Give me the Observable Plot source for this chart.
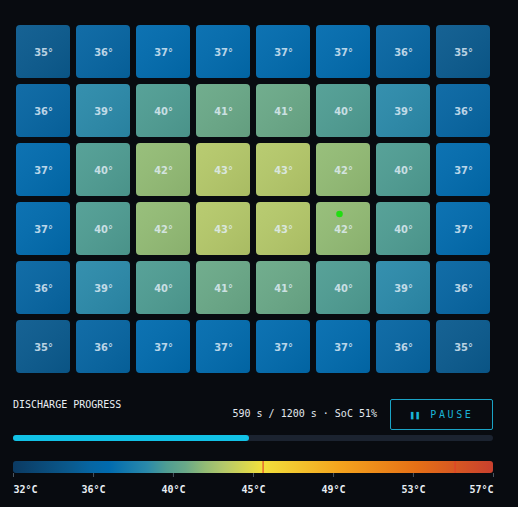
<!DOCTYPE html>
<html><head><meta charset="utf-8">
<script src="https://cdn.jsdelivr.net/npm/d3@7"></script>
<script src="https://cdn.jsdelivr.net/npm/@observablehq/plot@0.6"></script>
<style>
html,body{margin:0;padding:0;background:#080b10;}
#root{position:relative;width:518px;height:507px;background:#080b10;overflow:hidden;}
.abs{position:absolute;}
.mono{font-family:"DejaVu Sans Mono","Liberation Mono",monospace;font-size:10px;line-height:12px;white-space:nowrap;}
#btn{box-sizing:border-box;border:1px solid #1aa4c6;border-radius:2px;color:#1ab4d8;display:flex;align-items:center;justify-content:center;letter-spacing:2.6px;}
.cl{font-stretch:condensed;}
</style></head><body><div id="root"></div>
<script>
// ---- data ----
const cols = [0, 1, 2, 3, 4, 5, 6, 7];
const rows = [0, 1, 2, 3, 4, 5];
const row0 = [35, 36, 37, 37, 37, 37, 36, 35];
const row1 = [36, 39, 40, 41, 41, 40, 39, 36];
const row2 = [37, 40, 42, 43, 43, 42, 40, 37];
const row3 = [37, 40, 42, 43, 43, 42, 40, 37];
const row4 = [36, 39, 40, 41, 41, 40, 39, 36];
const row5 = [35, 36, 37, 37, 37, 37, 36, 35];
const temps = [row0, row1, row2, row3, row4, row5];
const hotspot = [{row: 3, col: 5}];
const elapsed = 590, duration = 1200, soc = 51;
const scaleDomain = [32, 57];
const scaleTicks = [32, 36.17, 40.33, 44.5, 48.67, 52.83, 57];
const scaleTickLabels = ["32°C", "36°C", "40°C", "45°C", "49°C", "53°C", "57°C"];
const thresholds = [45, 55];
const colorStops = [32, 35, 36, 37, 39, 40, 41, 42, 43, 45, 49, 53, 57];
const colorRange = ["#0b3a62", "#0a5a8e", "#0665a2", "#016bae", "#2b8aaa", "#4f9d93", "#6aa988", "#93bc75", "#b5c96a", "#f2e03c", "#f4a41e", "#e67016", "#c8402e"];

const cells = [];
rows.forEach(r => cols.forEach(c => cells.push({row: r, col: c, t: temps[r][c]})));

const root = document.getElementById("root");
const colorOpts = {type: "linear", domain: colorStops, range: colorRange, interpolate: "rgb"};

// ---- grid ----
const grid = Plot.plot({
  width: 518, height: 390, margin: 0,
  style: {background: "transparent", overflow: "visible"},
  x: {type: "band", domain: cols, range: [16, 490], paddingInner: 0.1, paddingOuter: 0, axis: null},
  y: {type: "band", domain: rows, range: [22, 376], paddingInner: 0.1, paddingOuter: 0, axis: null},
  color: colorOpts,
  marks: [
    Plot.cell(cells, {x: "col", y: "row", fill: "t", inset: 0, rx: 4}),
    Plot.cell(cells, {x: "col", y: "row", fill: "url(#sheen)", inset: 0, rx: 4}),
    Plot.text(cells, {x: "col", y: "row", text: d => d.t + "°", fill: "#e2eef8", fillOpacity: 0.82,
      fontSize: 11, fontWeight: "bold", fontFamily: "'DejaVu Sans',sans-serif", className: "cl"}),
    Plot.dot(hotspot, {x: "col", y: "row", dx: -4, dy: -15, r: 3.3, fill: "#22dd11", stroke: "none"})
  ]
});
d3.select(grid).selectAll("text").style("font-stretch", "condensed").attr("font-stretch", "condensed");
const defs = d3.select(grid).insert("defs", ":first-child");
const g = defs.append("linearGradient").attr("id", "sheen").attr("x1", 0).attr("y1", 0).attr("x2", 1).attr("y2", 1);
g.append("stop").attr("offset", 0).attr("stop-color", "#ffffff").attr("stop-opacity", 0.05);
g.append("stop").attr("offset", 1).attr("stop-color", "#000000").attr("stop-opacity", 0.07);
grid.style.position = "absolute"; grid.style.left = "0px"; grid.style.top = "0px";
root.appendChild(grid);

// ---- progress texts ----
const lab = document.createElement("div");
lab.className = "abs mono"; lab.style.left = "13px"; lab.style.top = "399px"; lab.style.color = "#e8eef4";
lab.textContent = "DISCHARGE PROGRESS";
root.appendChild(lab);

const st = document.createElement("div");
st.className = "abs mono"; st.style.right = "141px"; st.style.top = "408px"; st.style.color = "#e2e8ee";
st.textContent = `${elapsed} s / ${duration} s · SoC ${soc}%`;
root.appendChild(st);

const btn = document.createElement("div");
btn.id = "btn"; btn.className = "abs mono";
btn.style.left = "390px"; btn.style.top = "399px"; btn.style.width = "103px"; btn.style.height = "31px";
btn.innerHTML = '<span style="font-weight:bold;letter-spacing:0px;margin-right:10px;font-size:9px">❚❚</span>PAUSE';
root.appendChild(btn);

// ---- progress bar ----
const prog = Plot.plot({
  width: 518, height: 6, margin: 0,
  style: {background: "transparent"},
  x: {domain: [0, duration], range: [13, 493], axis: null},
  marks: [
    Plot.rect([duration], {x1: 0, x2: d => d, fill: "#1b2330", rx: 3}),
    Plot.rect([elapsed], {x1: 0, x2: d => d, fill: "#12c2e6", rx: 3})
  ]
});
prog.style.position = "absolute"; prog.style.left = "0px"; prog.style.top = "435px";
root.appendChild(prog);

// ---- colour scale bar ----
const cb = Plot.plot({
  width: 518, height: 52, margin: 0,
  style: {background: "transparent", overflow: "visible"},
  x: {domain: scaleDomain, range: [13, 493], axis: null},
  marks: [
    Plot.rect([scaleDomain], {x1: d => d[0], x2: d => d[1], insetTop: 6, insetBottom: 34, fill: "url(#cbgrad)", rx: 3}),
    Plot.ruleX(thresholds, {x: d => d, insetTop: 6, insetBottom: 34, stroke: "#e0402c", strokeWidth: 1.3, strokeOpacity: 0.85}),
    Plot.ruleX(scaleTicks, {x: d => d, insetTop: 18, insetBottom: 30, stroke: "#4a5662", strokeWidth: 1}),
    Plot.text(scaleTicks.slice(0, 1), {x: d => d, text: (d, i) => scaleTickLabels[i], frameAnchor: "top", dy: 30, textAnchor: "start",
      fill: "#e8eef4", fontSize: 10, fontWeight: "bold", fontFamily: "'DejaVu Sans Mono',monospace"}),
    Plot.text(scaleTicks.slice(1, 6), {x: d => d, text: (d, i) => scaleTickLabels[i + 1], frameAnchor: "top", dy: 30, textAnchor: "middle",
      fill: "#e8eef4", fontSize: 10, fontWeight: "bold", fontFamily: "'DejaVu Sans Mono',monospace"}),
    Plot.text(scaleTicks.slice(6), {x: d => d, text: (d, i) => scaleTickLabels[i + 6], frameAnchor: "top", dy: 30, textAnchor: "end",
      fill: "#e8eef4", fontSize: 10, fontWeight: "bold", fontFamily: "'DejaVu Sans Mono',monospace"})
  ]
});
const cdefs = d3.select(cb).insert("defs", ":first-child");
const cg = cdefs.append("linearGradient").attr("id", "cbgrad").attr("x1", 0).attr("y1", 0).attr("x2", 1).attr("y2", 0);
colorStops.forEach((v, i) => cg.append("stop")
  .attr("offset", (v - scaleDomain[0]) / (scaleDomain[1] - scaleDomain[0]))
  .attr("stop-color", colorRange[i]));
cb.style.position = "absolute"; cb.style.left = "0px"; cb.style.top = "455px";
root.appendChild(cb);
</script></body></html>
